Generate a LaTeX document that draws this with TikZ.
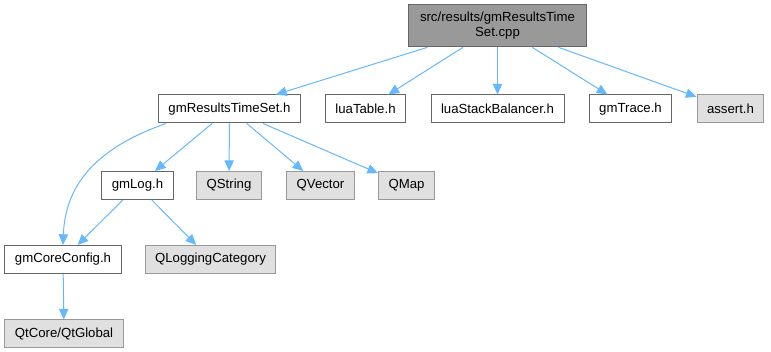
\documentclass[tikz,border=0pt]{standalone}
\usepackage{fontspec}
\setmainfont{Liberation Sans}
\usetikzlibrary{positioning, arrows.meta, shapes, calc}

\definecolor{edgeblue}{HTML}{63B8FF}
\definecolor{boxline}{HTML}{666666}
\definecolor{sysline}{HTML}{999999}
\definecolor{sysfill}{HTML}{E0E0E0}
\definecolor{rootfill}{HTML}{999999}

\begin{document}
\begin{tikzpicture}[x=0.75pt, y=-0.75pt,
		every node/.style={font=\fontsize{9.9pt}{11.5pt}\selectfont, inner xsep=7.5pt, inner ysep=0pt, minimum height=21pt},
		inc/.style={rectangle, draw=boxline, line width=0.75pt, fill=white},
		sys/.style={rectangle, draw=sysline, line width=0.75pt, fill=sysfill},
		root/.style={rectangle, draw=boxline, line width=0.75pt, fill=rootfill, align=center, minimum height=32pt, minimum width=134pt},
		dep/.style={draw=edgeblue, line width=0.75pt, -{Triangle[length=8pt, width=7pt]}}]
			\useasboundingbox (0,0) rectangle (771,352);
			
			% The source file
			\node (src) at (497.5, 25.5) [root] {src/results/gmResultsTime\\Set.cpp};
			
			% Direct includes
			\node (rts) at (229.5, 109) [inc] {gmResultsTimeSet.h};
			\node (luat) at (365.5, 109) [inc] {luaTable.h};
			\node (luas) at (497.5, 109) [inc] {luaStackBalancer.h};
			\node (trace) at (630.5, 109) [inc] {gmTrace.h};
			\node (assrt) at (730.5, 109) [sys] {assert.h};
			
			% Second level
			\node (log) at (137.5, 185.5) [inc] {gmLog.h};
			\node (qstr) at (229, 185.5) [sys] {QString};
			\node (qvec) at (320.5, 185.5) [sys] {QVector};
			\node (qmap) at (406.5, 185.5) [sys] {QMap};
			
			% Third level
			\node (cfg) at (63, 259.5) [inc] {gmCoreConfig.h};
			\node (qlog) at (210.5, 259.5) [sys] {QLoggingCategory};
			\node (qglob) at (64, 334) [sys] {QtCore/QtGlobal};
			
			% Edges from the source file
			\draw[dep] (src) -- (rts);
			\draw[dep] (src) -- (luat);
			\draw[dep] (src) -- (luas);
			\draw[dep] (src) -- (trace);
			\draw[dep] (src) -- (assrt);
			
			% Edges from gmResultsTimeSet.h
			\draw[dep] ([xshift=6pt]rts.south west) .. controls (90, 150) and (65, 190) .. (cfg.north);
			\draw[dep] (rts) -- (log);
			\draw[dep] (rts) -- (qstr);
			\draw[dep] (rts) -- (qvec);
			\draw[dep] (rts) -- (qmap);
			
			% Edges from gmLog.h and gmCoreConfig.h
			\draw[dep] (log) -- (cfg);
			\draw[dep] (log) -- (qlog);
			\draw[dep] (cfg) -- (qglob);
		\end{tikzpicture}
\end{document}
